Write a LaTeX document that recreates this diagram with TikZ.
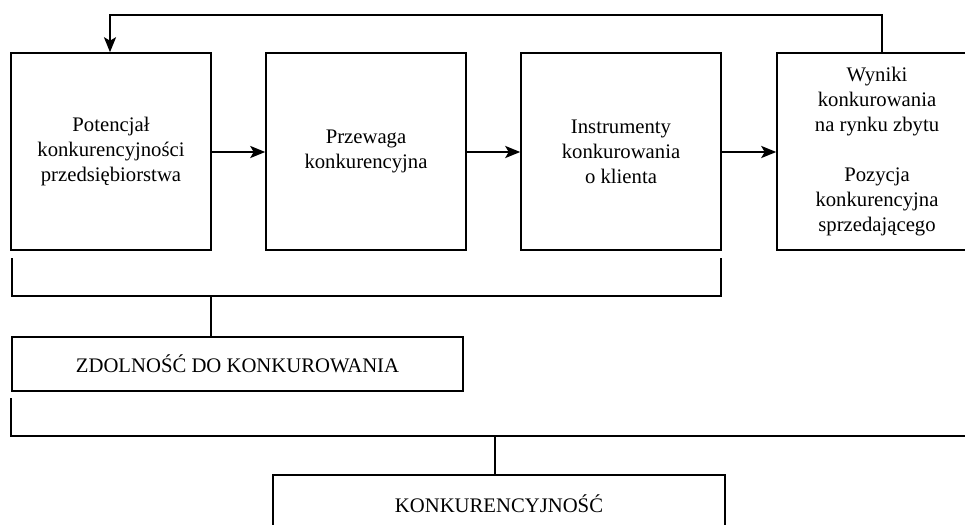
\documentclass[tikz,border=0pt]{standalone}
\usepackage{fontspec}
\setmainfont{Liberation Serif}
\usetikzlibrary{arrows.meta,calc}
\begin{document}
\begin{tikzpicture}[x=1pt,y=-1pt,
  box/.style={draw,line width=1.5pt,minimum width=200pt,align=center,inner sep=0pt,font=\fontsize{20.7}{25}\selectfont},
  thick line/.style={line width=2.5pt},
  arr/.style={line width=2.5pt,-{Stealth[length=15pt,width=12pt,inset=3.5pt]}}]
\useasboundingbox (0,0) rectangle (965,524);
\clip (0,0) rectangle (965,524);
\node[box,minimum height=197pt] (b1) at (111,151.5) {Potencjał\\konkurencyjności\\przedsiębiorstwa};
\node[box,minimum height=197pt] (b2) at (366,151.5) {Przewaga\\konkurencyjna};
\node[box,minimum height=197pt] (b3) at (621,151.5) {Instrumenty\\konkurowania\\o klienta};
\node[box,minimum height=197pt] (b4) at (877,151.5) {Wyniki\\konkurowania\\na rynku zbytu\\[25pt]Pozycja\\konkurencyjna\\sprzedającego};
\node[box,minimum width=451pt,minimum height=54pt] (zd) at (237.5,364) {ZDOLNOŚĆ DO KONKUROWANIA};
\node[box,minimum width=452pt,minimum height=62pt] (ko) at (499,506) {\raisebox{4pt}{KONKURENCYJNOŚĆ}};
% arrows between boxes
\draw[arr] (b1.east |- 0,152) -- (b2.west |- 0,152);
\draw[arr] (b2.east |- 0,152) -- (b3.west |- 0,152);
\draw[arr] (b3.east |- 0,152) -- (b4.west |- 0,152);
% feedback
\coordinate (fa) at (882,15);
\coordinate (fb) at (110,15);
\draw[arr] (b4.north -| fa) -- (fa) -- (fb) -- (b1.north -| fb);
% first bracket
\coordinate (k1) at (12,258);
\coordinate (k2) at (12,296);
\coordinate (k3) at (721,296);
\coordinate (k4) at (721,258);
\draw[thick line] (k1) -- (k2) -- (k3) -- (k4);
\draw[thick line] (211,296) -- (zd.north -| 211,0);
% second bracket
\coordinate (m1) at (11,398);
\coordinate (m2) at (11,436);
\coordinate (m3) at (970,436);
\draw[thick line] (m1) -- (m2) -- (m3);
\draw[thick line] (495,436) -- (ko.north -| 495,0);
\end{tikzpicture}
\end{document}
